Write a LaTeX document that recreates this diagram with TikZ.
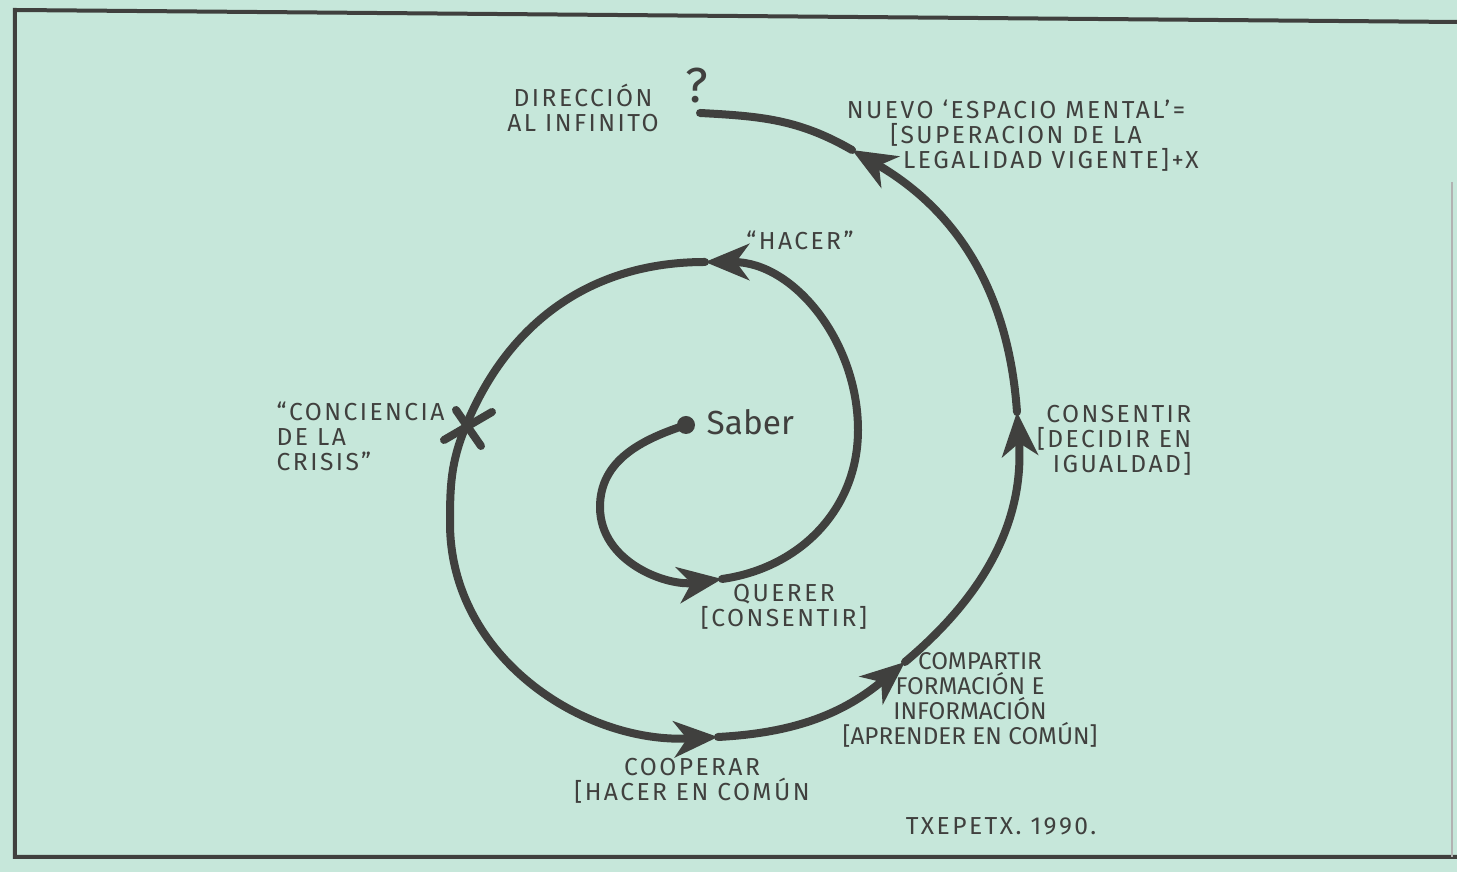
\documentclass[tikz,border=0pt]{standalone}
\usepackage{fontspec}
\setmainfont{Fira Sans}
\newfontfamily\hand[LetterSpace=10]{Fira Sans}
\usetikzlibrary{arrows.meta}
\definecolor{paper}{RGB}{198,231,218}
\definecolor{ink}{RGB}{64,64,62}
\begin{document}
\begin{tikzpicture}[
    spiral/.style={draw=ink,line width=0.08cm,line cap=round},
    tip/.style={-{Stealth[length=0.44cm,width=0.36cm,inset=0.13cm]}},
    lbl/.style={text=ink,font=\hand\fontsize{7}{7.1}\selectfont,inner sep=0pt,align=center}
  ]
        \fill[paper] (0,0) rectangle (14.57,8.72);
        \useasboundingbox (0,0) rectangle (14.57,8.72);
        \draw[ink,line width=0.04cm] (14.57,8.50) -- (0.15,8.62) -- (0.15,0.15) -- (14.57,0.15);
        \draw[ink!40,line width=0.02cm] (14.52,6.90) -- (14.52,0.15);
        \coordinate (s0) at (6.86,4.47);
        \coordinate (l1) at (6.00,3.65);
        \coordinate (b1) at (7.22,2.93);
        \coordinate (r1) at (8.58,4.42);
        \coordinate (t1) at (7.05,6.10);
        \coordinate (x) at (4.65,4.44);
        \coordinate (l2) at (4.50,3.49);
        \coordinate (b2) at (7.18,1.35);
        \coordinate (c2) at (9.05,2.10);
        \coordinate (r2) at (10.17,4.60);
        \coordinate (t2) at (8.52,7.22);
        \coordinate (e) at (7.00,7.59);
        \fill[ink] (s0) circle (0.09);
        \draw[spiral,tip] (s0) to[out=198,in=90] (l1) to[out=270,in=188] (b1);
        \draw[spiral,tip] (b1) to[out=8,in=270] (r1) to[out=90,in=0] (t1);
        \draw[spiral,tip] (t1) to[out=180,in=68] (x) to[out=248,in=90] (l2) to[out=270,in=183] (b2);
        \draw[spiral,tip] (b2) to[out=3,in=220] (c2);
        \draw[spiral,tip] (c2) to[out=40,in=274] (r2);
        \draw[spiral,tip] (r2) to[out=94,in=330] (t2);
        \draw[spiral] (t2) to[out=150,in=357] (e);
        \draw[spiral] ([shift={(-0.21,-0.12)}]x) -- ([shift={(0.27,0.16)}]x);
        \draw[spiral] ([shift={(-0.09,0.18)}]x) -- ([shift={(0.16,-0.18)}]x);
        \draw (5.83,7.64) node[lbl](dir){DIRECCIÓN\\AL INFINITO};
        \draw (6.97,7.86) node[lbl,font=\fontsize{14}{14}\selectfont](q){?};
        \draw (10.16,7.36) node[lbl](nuevo){NUEVO ‘ESPACIO MENTAL’=\\{[}SUPERACION DE LA\\\hspace*{0.7cm}LEGALIDAD VIGENTE{]}+X};
        \draw (8.00,6.32) node[lbl](hacer){“HACER”};
        \draw (2.76,4.36) node[lbl,anchor=west,align=left](crisis){“CONCIENCIA\\DE LA\\CRISIS”};
        \draw (7.06,4.50) node[lbl,anchor=west,font=\fontsize{9.5}{10}\selectfont](saber){Saber};
        \draw (11.92,4.32) node[lbl,anchor=east,align=right](consentir){CONSENTIR\\{[}DECIDIR EN\\IGUALDAD{]}};
        \draw (7.84,2.65) node[lbl](querer){QUERER\\{[}CONSENTIR{]}};
        \draw (9.70,1.72) node[lbl,font=\fontsize{6.9}{7.1}\selectfont](compartir){\hspace*{0.2cm}COMPARTIR\\FORMACIÓN E\\INFORMACIÓN\\{[}APRENDER EN COMÚN{]}};
        \draw (6.92,0.91) node[lbl](cooperar){COOPERAR\\{[}HACER EN COMÚN};
        \draw (10.01,0.46) node[lbl](firma){TXEPETX. 1990.};
\end{tikzpicture}
\end{document}
